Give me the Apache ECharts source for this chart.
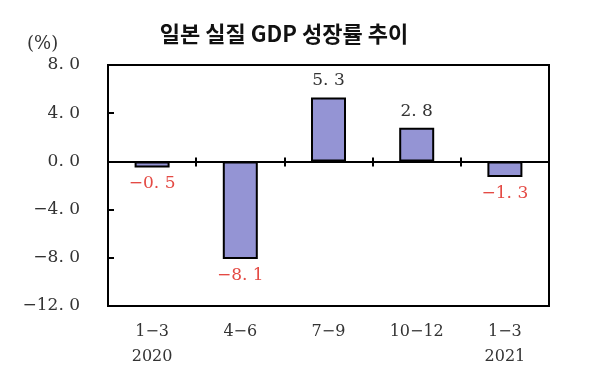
<!DOCTYPE html>
<html><head><meta charset="utf-8">
<script src="https://cdn.jsdelivr.net/npm/echarts@6/dist/echarts.min.js"></script>
<style>html,body{margin:0;padding:0;background:#fff}#c{width:600px;height:380px}</style>
</head><body><div id="c"></div>
<script>
const categories = ['1−3\n2020', '4−6', '7−9', '10−12', '1−3\n2021'];
const values = [-0.5, -8.1, 5.3, 2.8, -1.3];
const yTicks = [8, 4, 0, -4, -8, -12];

const fmt = v => (v < 0 ? '−' : '') + Math.abs(v).toFixed(1).replace('.', '. ');
const serif = '"DejaVu Serif", "Liberation Serif", serif';

const chart = echarts.init(document.getElementById('c'), null, {renderer: 'canvas'});
chart.setOption({
  animation: false,
  title: {
    text: '일본 실질 GDP 성장률 추이',
    left: 279, top: 18, textAlign: 'center',
    textStyle: {fontFamily: '"Noto Sans CJK KR"', fontWeight: 'bold', fontSize: 22, color: '#111'}
  },
  graphic: [{
    type: 'text', left: 27, top: 35,
    style: {text: '(%)', font: '18px ' + serif, fill: '#333'}
  }],
  grid: {left: 108, right: 51, top: 65, bottom: 74, show: true, borderColor: '#000', borderWidth: 2, backgroundColor: 'transparent'},
  xAxis: [
    {
      type: 'category', data: categories, position: 'bottom',
      axisLine: {onZero: false, lineStyle: {color: '#000', width: 2}},
      axisTick: {show: false},
      axisLabel: {fontFamily: serif, fontSize: 16, color: '#333', margin: 13, lineHeight: 25}
    },
    {
      type: 'category', data: categories, position: 'bottom',
      axisLine: {onZero: true, onZeroAxisIndex: 0, lineStyle: {color: '#000', width: 2}},
      axisTick: {show: true, length: 5, lineStyle: {color: '#000', width: 2}},
      axisLabel: {show: false}
    },
    {
      type: 'category', data: categories, position: 'top',
      axisLine: {onZero: true, onZeroAxisIndex: 1, lineStyle: {color: '#000', width: 2}},
      axisTick: {show: true, length: 4, lineStyle: {color: '#000', width: 2}},
      axisLabel: {show: false}
    }
  ],
  yAxis: [
    {
      type: 'value', min: -12, max: 8, interval: 4,
      axisLine: {show: true, lineStyle: {color: '#000', width: 2}},
      axisTick: {show: true, inside: true, length: 6, lineStyle: {color: '#000', width: 2}},
      splitLine: {show: false},
      axisLabel: {formatter: v => yTicks.includes(v) ? fmt(v) : '', fontFamily: serif, fontSize: 17, color: '#333', margin: 28}
    },
    {
      type: 'value', min: -12, max: 8, interval: 4, position: 'left',
      axisLine: {show: false}, axisTick: {show: false}, axisLabel: {show: false}, splitLine: {show: false}
    }
  ],
  series: [{
    type: 'bar', xAxisIndex: 1, yAxisIndex: 0, barWidth: 35,
    data: values.map(v => ({
      value: v,
      label: {position: v < 0 ? 'bottom' : 'top', color: v < 0 ? '#e44a44' : '#333'}
    })),
    itemStyle: {color: '#9494d4', borderColor: '#000', borderWidth: 2},
    label: {show: true, formatter: p => fmt(p.value), fontFamily: serif, fontSize: 17, distance: 8}
  }]
});
</script></body></html>
